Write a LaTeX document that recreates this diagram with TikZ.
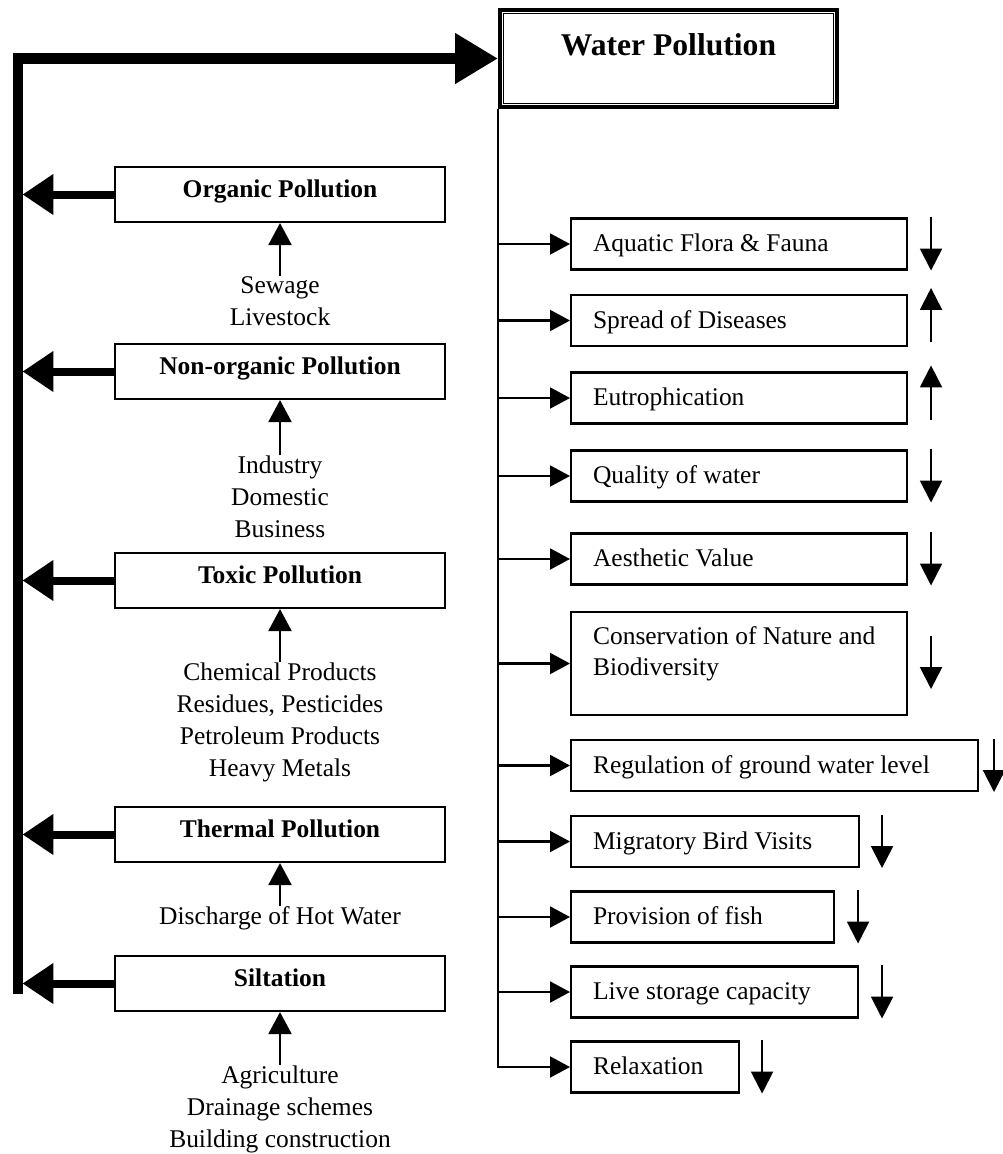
\documentclass[tikz,border=0pt]{standalone}
\usepackage{fontspec}
\setmainfont{Liberation Serif}
\usetikzlibrary{arrows.meta, positioning}
\newcommand{\basefont}{\fontsize{14.5pt}{18.2pt}\selectfont}

\begin{document}
\begin{tikzpicture}[x=0.02cm, y=-0.02cm, font=\basefont, node distance=1.06cm,
    cause/.style={draw, line width=1.2pt, minimum width=6.6cm, inner ysep=0pt,
      text height=.6cm, text depth=.5cm, font=\basefont\bfseries},
    effect/.style={draw, line width=1.2pt, anchor=west, text width=#1, align=flush left,
      inner xsep=.44cm, inner ysep=0pt, text height=.66cm, text depth=.36cm},
    source/.style={align=center, inner sep=0pt},
    spine/.style={line width=.22cm, -{Triangle[length=.86cm, width=.96cm]}},
    feed/.style={line width=.16cm, -{Triangle[length=.62cm, width=.78cm]}, shorten >=.09cm},
    rise/.style={line width=1.2pt, -{Triangle[length=.44cm, width=.46cm]}},
    branch/.style={line width=1.2pt, -{Triangle[length=.4cm, width=.42cm]}},
    trend/.style={line width=1.2pt, -{Triangle[length=.44cm, width=.44cm]}}]
    \useasboundingbox (0,0) rectangle (1003,1154);

    % main box
    \node[draw, line width=2.3pt, minimum width=6.74cm, inner ysep=0pt, text height=.9cm,
      text depth=1.04cm, font=\fontsize{18pt}{22pt}\selectfont\bfseries] (wp) at (668.5,58.5) {Water Pollution};
    \draw[line width=.8pt] ([shift={(.11cm,-.11cm)}]wp.north west) rectangle ([shift={(-.11cm,.11cm)}]wp.south east);

    % causes
    \node[cause] (org) at (280,194.5) {Organic Pollution};
    \node[cause] (nonorg) at (280,371.5) {Non-organic Pollution};
    \node[cause] (toxic) at (280,580.5) {Toxic Pollution};
    \node[cause] (thermal) at (280,834.5) {Thermal Pollution};
    \node[cause] (silt) at (280,983.5) {Siltation};

    \node[source] (src1) [below=of org] {Sewage\\Livestock};
    \node[source] (src2) [below=1.1cm of nonorg] {Industry\\Domestic\\Business};
    \node[source] (src3) [below=of toxic] {Chemical Products\\Residues, Pesticides\\Petroleum Products\\Heavy Metals};
    \node[source] (src4) [below=.86cm of thermal] {Discharge of Hot Water};
    \node[source] (src5) [below=of silt] {Agriculture\\Drainage schemes\\Building construction};

    % effects
    \node[effect=5.84cm] (aqua) at (570,244) {Aquatic Flora \& Fauna};
    \node[effect=5.84cm] (disease) at (570,320.5) {Spread of Diseases};
    \node[effect=5.84cm] (eutro) at (570,398) {Eutrophication};
    \node[effect=5.84cm] (quality) at (570,476) {Quality of water};
    \node[effect=5.84cm] (aesth) at (570,559) {Aesthetic Value};
    \node[effect=5.84cm, text height=.64cm, text depth=1.42cm] (conserv) at (570,663.5) {Conservation of Nature and\\Biodiversity};
    \node[effect=7.26cm] (ground) at (570,765.5) {Regulation of ground water level};
    \node[effect=4.88cm] (birds) at (570,841.5) {Migratory Bird Visits};
    \node[effect=4.38cm] (fish) at (570,917) {Provision of fish};
    \node[effect=4.86cm] (storage) at (570,992) {Live storage capacity};
    \node[effect=2.48cm] (relax) at (570,1067) {Relaxation};

    % left side
    \coordinate (spinebot) at (18,994);
    \draw[spine] (spinebot) |- (wp.west);
    \foreach \n in {org, nonorg, toxic, thermal, silt}
      \draw[feed] (\n.west) -- (\n.west -| spinebot);
    \foreach \s/\n in {src1/org, src2/nonorg, src3/toxic, src4/thermal, src5/silt}
      \draw[rise] (\s.north) -- (\n.south);

    % right side
    \draw[branch] (wp.south west) |- (relax.west);
    \foreach \n in {aqua, disease, eutro, quality, aesth, conserv, ground, birds, fish, storage}
      \draw[branch] (wp.south west |- \n.west) -- (\n.west);

    % up / down marks
    \foreach \n/\dx in {aqua/.46cm, quality/.46cm, aesth/.46cm, ground/.3cm, birds/.44cm,
        fish/.46cm, storage/.46cm, relax/.44cm}
      \draw[trend] ([xshift=\dx]\n.north east) -- ([xshift=\dx]\n.south east);
    \foreach \n in {disease, eutro}
      \draw[trend] ([shift={(.46cm,.1cm)}]\n.south east) -- ([shift={(.46cm,.12cm)}]\n.north east);
    \draw[trend] ([shift={(.46cm,-.5cm)}]conserv.north east) -- ([shift={(.46cm,.54cm)}]conserv.south east);
\end{tikzpicture}
\end{document}
